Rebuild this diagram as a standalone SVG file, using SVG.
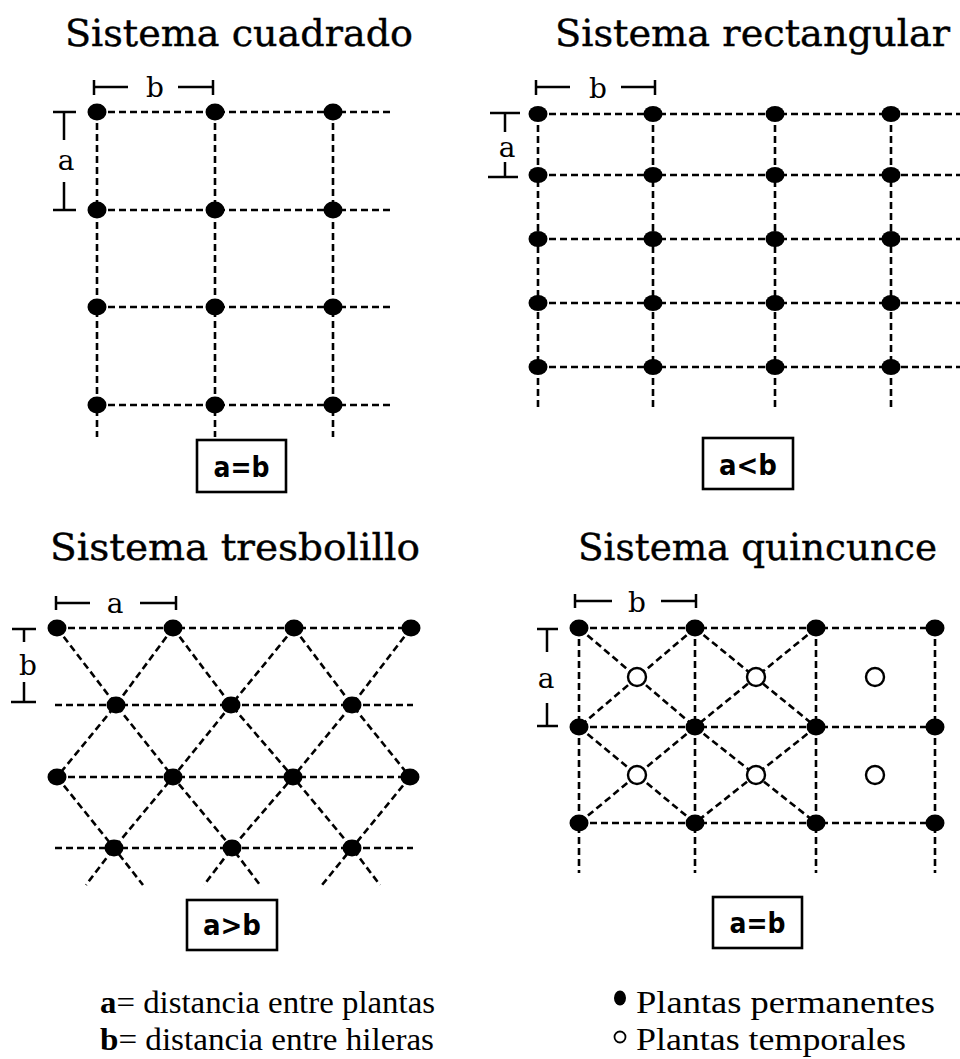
<svg xmlns="http://www.w3.org/2000/svg" width="960" height="1059" viewBox="0 0 960 1059">
<style>
.g{stroke:#000;stroke-width:2.6;stroke-dasharray:7 4;fill:none}
.dim{stroke:#000;stroke-width:2.5;fill:none}
.dot{fill:#000}
.open{fill:#fff;stroke:#000;stroke-width:2.4}
.title{font-family:"DejaVu Serif","Liberation Serif",serif;font-size:38px;fill:#000;stroke:#000;stroke-width:0.4}
.lbl{font-family:"DejaVu Serif","Liberation Serif",serif;font-size:28px;text-anchor:middle;fill:#000}
.box{fill:#fff;stroke:#000;stroke-width:2.6}
.bt{font-family:"DejaVu Sans","Liberation Sans",sans-serif;font-weight:bold;font-size:28px;text-anchor:middle;fill:#000}
.leg{font-family:"Liberation Serif","Times New Roman",serif;font-size:31px;fill:#000}
</style>
<rect width="960" height="1059" fill="#fff"/>

<!-- Panel 1: cuadrado -->
<g id="cuadrado">
<text class="title" x="65" y="46" textLength="348" lengthAdjust="spacingAndGlyphs">Sistema cuadrado</text>
<g id="cuadrado-connectors">
<path class="g" d="M97,112H393M97,210H393M97,307H393M97,405H393M97,112V437M215,112V437M333,112V437"/>
</g>
<g id="cuadrado-nodes" class="dot">
<ellipse cx="97" cy="112" rx="9.5" ry="8.5"/><ellipse cx="215" cy="112" rx="9.5" ry="8.5"/><ellipse cx="333" cy="112" rx="9.5" ry="8.5"/>
<ellipse cx="97" cy="210" rx="9.5" ry="8.5"/><ellipse cx="215" cy="210" rx="9.5" ry="8.5"/><ellipse cx="333" cy="210" rx="9.5" ry="8.5"/>
<ellipse cx="97" cy="307" rx="9.5" ry="8.5"/><ellipse cx="215" cy="307" rx="9.5" ry="8.5"/><ellipse cx="333" cy="307" rx="9.5" ry="8.5"/>
<ellipse cx="97" cy="405" rx="9.5" ry="8.5"/><ellipse cx="215" cy="405" rx="9.5" ry="8.5"/><ellipse cx="333" cy="405" rx="9.5" ry="8.5"/>
</g>
<g id="cuadrado-dims">
<path class="dim" d="M94,80V95M94,87H128M178,87H213M213,80V95"/>
<text class="lbl" x="155" y="97">b</text>
<path class="dim" d="M53,112H76M64,112V140M64,182V210M53,210H76"/>
<text class="lbl" x="66" y="170">a</text>
</g>
<g id="cuadrado-box">
<rect class="box" x="197" y="440" width="89" height="52"/>
<text class="bt" x="241.5" y="477" textLength="56" lengthAdjust="spacingAndGlyphs">a=b</text>
</g>
</g>

<!-- Panel 2: rectangular -->
<g id="rectangular">
<text class="title" x="555" y="46" textLength="395" lengthAdjust="spacingAndGlyphs">Sistema rectangular</text>
<g id="rectangular-connectors">
<path class="g" d="M538,114H960M538,175H960M538,239H960M538,303H960M538,367H960M538,114V408M653,114V408M775,114V408M891,114V408"/>
</g>
<g id="rectangular-nodes" class="dot">
<ellipse cx="538" cy="114" rx="9.5" ry="8"/><ellipse cx="653" cy="114" rx="9.5" ry="8"/><ellipse cx="775" cy="114" rx="9.5" ry="8"/><ellipse cx="891" cy="114" rx="9.5" ry="8"/>
<ellipse cx="538" cy="175" rx="9.5" ry="8"/><ellipse cx="653" cy="175" rx="9.5" ry="8"/><ellipse cx="775" cy="175" rx="9.5" ry="8"/><ellipse cx="891" cy="175" rx="9.5" ry="8"/>
<ellipse cx="538" cy="239" rx="9.5" ry="8"/><ellipse cx="653" cy="239" rx="9.5" ry="8"/><ellipse cx="775" cy="239" rx="9.5" ry="8"/><ellipse cx="891" cy="239" rx="9.5" ry="8"/>
<ellipse cx="538" cy="303" rx="9.5" ry="8"/><ellipse cx="653" cy="303" rx="9.5" ry="8"/><ellipse cx="775" cy="303" rx="9.5" ry="8"/><ellipse cx="891" cy="303" rx="9.5" ry="8"/>
<ellipse cx="538" cy="367" rx="9.5" ry="8"/><ellipse cx="653" cy="367" rx="9.5" ry="8"/><ellipse cx="775" cy="367" rx="9.5" ry="8"/><ellipse cx="891" cy="367" rx="9.5" ry="8"/>
</g>
<g id="rectangular-dims">
<path class="dim" d="M536,80V95M536,87H570M621,87H655M655,80V95"/>
<text class="lbl" x="598" y="98">b</text>
<path class="dim" d="M490,113H520M505,113V132M505,162V177M488,177H518"/>
<text class="lbl" x="507" y="157">a</text>
</g>
<g id="rectangular-box">
<rect class="box" x="703" y="438" width="90" height="51"/>
<text class="bt" x="748" y="475" textLength="58" lengthAdjust="spacingAndGlyphs">a&lt;b</text>
</g>
</g>

<!-- Panel 3: tresbolillo -->
<g id="tresbolillo">
<text class="title" x="50" y="560" textLength="370" lengthAdjust="spacingAndGlyphs">Sistema tresbolillo</text>
<g id="tresbolillo-connectors">
<path class="g" d="M57,628H411M55,705H413M57,777H410M55,848H413"/>
<polyline class="g" points="57,628 116,705 173,777 232,848 260,885"/>
<polyline class="g" points="173,628 231,705 293,777 352,848 380,885"/>
<polyline class="g" points="294,628 352,705 410,777"/>
<polyline class="g" points="57,777 114,848 143,885"/>
<polyline class="g" points="173,628 116,705 57,777"/>
<polyline class="g" points="294,628 231,705 173,777 114,848 86,885"/>
<polyline class="g" points="411,628 352,705 293,777 232,848 204,885"/>
<polyline class="g" points="410,777 352,848 322,885"/>
</g>
<g id="tresbolillo-nodes" class="dot">
<ellipse cx="57" cy="628" rx="9.5" ry="8.5"/><ellipse cx="173" cy="628" rx="9.5" ry="8.5"/><ellipse cx="294" cy="628" rx="9.5" ry="8.5"/><ellipse cx="411" cy="628" rx="9.5" ry="8.5"/>
<ellipse cx="116" cy="705" rx="9.5" ry="8.5"/><ellipse cx="231" cy="705" rx="9.5" ry="8.5"/><ellipse cx="352" cy="705" rx="9.5" ry="8.5"/>
<ellipse cx="57" cy="777" rx="9.5" ry="8.5"/><ellipse cx="173" cy="777" rx="9.5" ry="8.5"/><ellipse cx="293" cy="777" rx="9.5" ry="8.5"/><ellipse cx="410" cy="777" rx="9.5" ry="8.5"/>
<ellipse cx="114" cy="848" rx="9.5" ry="8.5"/><ellipse cx="232" cy="848" rx="9.5" ry="8.5"/><ellipse cx="352" cy="848" rx="9.5" ry="8.5"/>
</g>
<g id="tresbolillo-dims">
<path class="dim" d="M56,596V610M56,603H90M140,603H176M176,596V610"/>
<text class="lbl" x="115" y="613">a</text>
<path class="dim" d="M12,629H36M24,629V642M24,682V702M11,702H36"/>
<text class="lbl" x="28" y="675">b</text>
</g>
<g id="tresbolillo-box">
<rect class="box" x="187" y="900" width="90" height="50"/>
<text class="bt" x="232" y="935" textLength="58" lengthAdjust="spacingAndGlyphs">a&gt;b</text>
</g>
</g>

<!-- Panel 4: quincunce -->
<g id="quincunce">
<text class="title" x="578" y="560" textLength="359" lengthAdjust="spacingAndGlyphs">Sistema quincunce</text>
<g id="quincunce-connectors">
<path class="g" d="M579,628H935M579,727H935M579,823H935M579,628V873M695,628V873M816,628V873M935,628V873"/>
<path class="g" d="M579,628L695,727M695,628L579,727M695,628L816,727M816,628L695,727M579,727L695,823M695,727L579,823M695,727L816,823M816,727L695,823"/>
</g>
<g id="quincunce-nodes">
<g class="dot">
<ellipse cx="579" cy="628" rx="9.5" ry="8.5"/><ellipse cx="695" cy="628" rx="9.5" ry="8.5"/><ellipse cx="816" cy="628" rx="9.5" ry="8.5"/><ellipse cx="935" cy="628" rx="9.5" ry="8.5"/>
<ellipse cx="579" cy="727" rx="9.5" ry="8.5"/><ellipse cx="695" cy="727" rx="9.5" ry="8.5"/><ellipse cx="816" cy="727" rx="9.5" ry="8.5"/><ellipse cx="935" cy="727" rx="9.5" ry="8.5"/>
<ellipse cx="579" cy="823" rx="9.5" ry="8.5"/><ellipse cx="695" cy="823" rx="9.5" ry="8.5"/><ellipse cx="816" cy="823" rx="9.5" ry="8.5"/><ellipse cx="935" cy="823" rx="9.5" ry="8.5"/>
</g>
<g class="open">
<circle cx="637" cy="677" r="9"/><circle cx="756" cy="677" r="9"/><circle cx="875" cy="677" r="9"/>
<circle cx="637" cy="775" r="9"/><circle cx="756" cy="775" r="9"/><circle cx="875" cy="775" r="9"/>
</g>
</g>
<g id="quincunce-dims">
<path class="dim" d="M575,594V608M575,601H612M661,601H696M696,594V608"/>
<text class="lbl" x="637" y="612">b</text>
<path class="dim" d="M537,629H558M547,629V652M547,703V726M537,726H558"/>
<text class="lbl" x="546" y="688">a</text>
</g>
<g id="quincunce-box">
<rect class="box" x="713" y="897" width="89" height="51"/>
<text class="bt" x="757.5" y="933" textLength="56" lengthAdjust="spacingAndGlyphs">a=b</text>
</g>
</g>

<!-- Legend -->
<g id="legend-ab">
<text class="leg" x="100" y="1013" textLength="335" lengthAdjust="spacingAndGlyphs"><tspan font-weight="bold">a</tspan>= distancia entre plantas</text>
<text class="leg" x="100" y="1050" textLength="334" lengthAdjust="spacingAndGlyphs"><tspan font-weight="bold">b</tspan>= distancia entre hileras</text>
</g>
<g id="legend-symbols">
<ellipse class="dot" cx="620" cy="998" rx="6" ry="7.5"/>
<text class="leg" x="636" y="1013" textLength="299" lengthAdjust="spacingAndGlyphs">Plantas permanentes</text>
<circle cx="620" cy="1037" r="5.5" fill="#fff" stroke="#000" stroke-width="1.8"/>
<text class="leg" x="636" y="1050" textLength="270" lengthAdjust="spacingAndGlyphs">Plantas temporales</text>
</g>
</svg>
